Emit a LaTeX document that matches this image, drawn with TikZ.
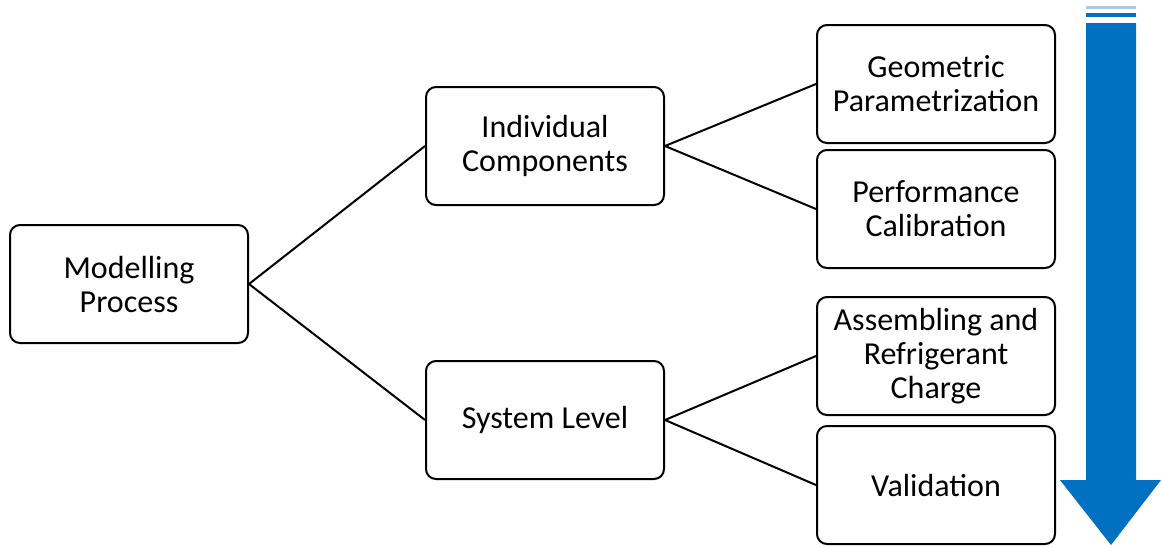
\documentclass[tikz,border=0pt]{standalone}
\usepackage{fontspec}
\setmainfont{Carlito}
\definecolor{arrowblue}{HTML}{0070C0}
\definecolor{stripeblue}{HTML}{A9CBEA}
\tikzset{
	stepbox/.style={draw, line width=2pt, rounded corners=10pt, minimum width=238pt, minimum height=118pt, align=center, font=\fontsize{32}{34}\selectfont},
	link/.style={line width=2pt}
}
\begin{document}
\begin{tikzpicture}[x=1pt, y=-1pt]
		\useasboundingbox (0,0) rectangle (1162,547);
		\node[stepbox] (model) at (129,284) {Modelling\\Process};
		\node[stepbox] (indiv) at (545,146) {Individual\\Components};
		\node[stepbox] (system) at (545,420) {System Level};
		\node[stepbox] (geom) at (936,84) {Geometric\\Parametrization};
		\node[stepbox] (perf) at (936,209) {Performance\\Calibration};
		\node[stepbox] (assem) at (936,356) {Assembling and\\Refrigerant\\Charge};
		\node[stepbox] (valid) at (936,485) {Validation};
		\draw[link] (model.east) -- (indiv.west);
		\draw[link] (model.east) -- (system.west);
		\draw[link] (indiv.east) -- (geom.west);
		\draw[link] (indiv.east) -- (perf.west);
		\draw[link] (system.east) -- (assem.west);
		\draw[link] (system.east) -- (valid.west);
		% downward arrow
		\fill[stripeblue] (1086,6) rectangle (1136,9);
		\fill[arrowblue] (1086,13) rectangle (1136,17);
		\fill[arrowblue] (1086,23) -- (1136,23) -- (1136,480) -- (1161,480) -- (1111,545) -- (1060,480) -- (1086,480) -- cycle;
	\end{tikzpicture}
\end{document}
